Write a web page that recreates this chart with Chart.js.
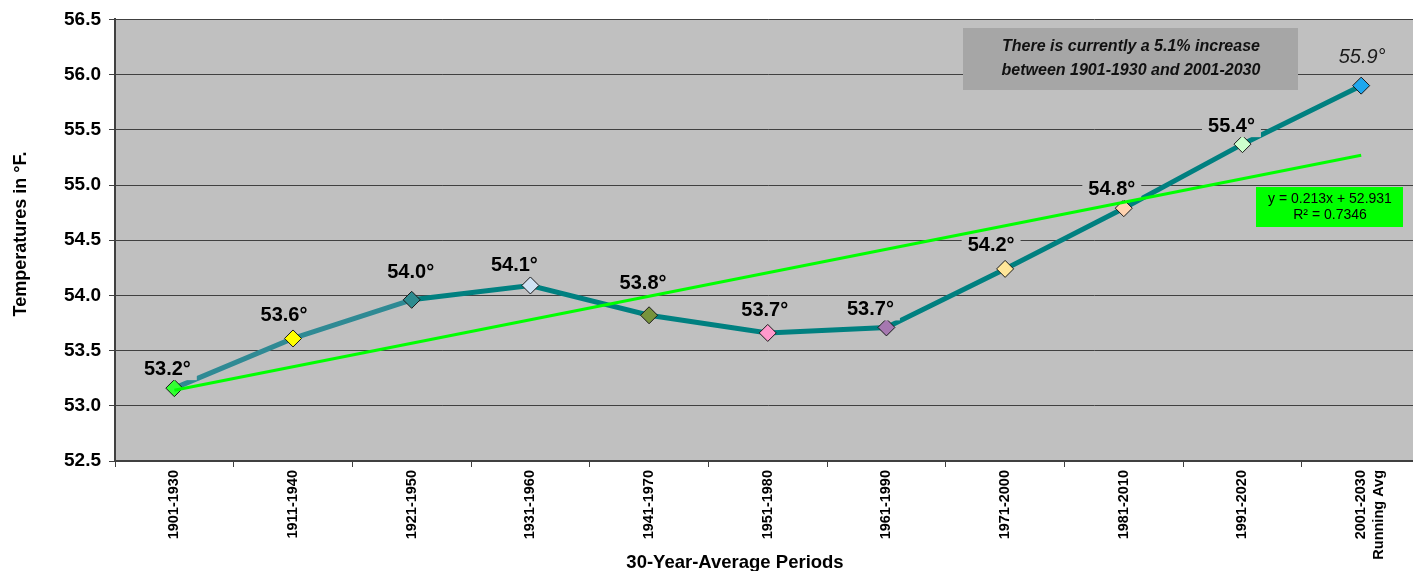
<!DOCTYPE html>
<html>
<head>
<meta charset="utf-8">
<script src="https://cdn.jsdelivr.net/npm/chart.js@4.4.0/dist/chart.umd.min.js"></script>
<style>
  html, body { margin: 0; padding: 0; background: #fff; }
  #wrap { width: 1413px; height: 571px; overflow: hidden; }
</style>
</head>
<body>
<div id="wrap"><canvas id="chart" width="1430" height="571"></canvas></div>
<script>
// ── Data ─────────────────────────────────
const periods = ['1901-1930', '1911-1940', '1921-1950', '1931-1960', '1941-1970', '1951-1980',
  '1961-1990', '1971-2000', '1981-2010', '1991-2020', ['2001-2030', 'Running Avg']];
const temps = [53.16, 53.61, 53.96, 54.09, 53.82, 53.66, 53.71, 54.24, 54.79, 55.37, 55.90];
const markerColors = ['#33ff33', '#ffff00', '#2e8b8f', '#cfe2f3', '#77933c', '#ff99cc',
  '#a678b0', '#ffe699', '#ffd3b0', '#ccffcc', '#1ea7ee'];
// linear trend, end points
const trendValues = [53.14, null, null, null, null, null, null, null, null, null, 55.27];
const equationLines = ['y = 0.213x + 52.931', 'R² = 0.7346'];
const noteLines = ['There is currently a 5.1% increase', 'between 1901-1930 and 2001-2030'];

const FONT = "'Liberation Sans', Arial, sans-serif";
const PLOT_BG = '#c0c0c0';

// plot background
const plotBg = {
  id: 'plotBg',
  beforeDraw(chart) {
    const { ctx, chartArea: a } = chart;
    ctx.save();
    ctx.fillStyle = PLOT_BG;
    ctx.fillRect(a.left, a.top, a.right - a.left, a.bottom - a.top);
    ctx.restore();
  }
};

// value labels above each point, on a grey patch (drawn before the trend line)
const pointLabels = {
  id: 'pointLabels',
  // label nudges (px) like the hand-placed ones in the original
  dx: [-7, -9, -1, -16, -6, -3, -16, -14, -12, -11, 1],
  dy: [-19, -23, -27, -20, -32, -22, -18, -23, -19, -18, -28],
  afterDatasetDraw(chart, args) {
    if (args.index !== 0) return;
    const { ctx } = chart;
    ctx.save();
    ctx.textAlign = 'center';
    ctx.textBaseline = 'middle';
    args.meta.data.forEach((pt, i) => {
      const last = i === temps.length - 1;
      const txt = temps[i].toFixed(1) + '°';
      ctx.font = last ? `italic 20px ${FONT}` : `bold 20px ${FONT}`;
      const x = pt.x + this.dx[i];
      const y = pt.y + this.dy[i];
      const w = ctx.measureText(txt).width + 12;
      ctx.fillStyle = PLOT_BG;
      ctx.fillRect(x - w / 2, y - 11, w, 22);
      ctx.fillStyle = last ? '#1a1a1a' : '#000';
      ctx.fillText(txt, x, y);
    });
    ctx.restore();
  }
};

// note box, equation box, axis titles
const extras = {
  id: 'extras',
  afterDraw(chart) {
    const { ctx } = chart;
    ctx.save();
    // note box
    ctx.fillStyle = '#a6a6a6';
    ctx.fillRect(963, 28, 335, 62);
    ctx.fillStyle = '#111';
    ctx.font = `italic bold 16px ${FONT}`;
    ctx.textAlign = 'center';
    ctx.textBaseline = 'middle';
    ctx.fillText(noteLines[0], 1131, 47);
    ctx.fillText(noteLines[1], 1131, 71);
    // equation box
    ctx.fillStyle = '#00ff00';
    ctx.fillRect(1256, 187, 147, 40);
    ctx.fillStyle = '#000';
    ctx.font = `14px ${FONT}`;
    ctx.fillText(equationLines[0], 1330, 199);
    ctx.fillText(equationLines[1], 1330, 215);
    // x title
    ctx.font = `bold 18.5px ${FONT}`;
    ctx.fillText('30-Year-Average Periods', 735, 563);
    // y title
    ctx.translate(21, 234);
    ctx.rotate(-Math.PI / 2);
    ctx.font = `bold 18px ${FONT}`;
    ctx.fillText('Temperatures in °F.', 0, 0);
    ctx.restore();
  }
};

new Chart(document.getElementById('chart').getContext('2d'), {
  type: 'line',
  data: {
    labels: periods,
    datasets: [
      {
        label: 'Temperature',
        data: temps,
        borderColor: '#008080',
        borderWidth: 5,
        tension: 0,
        segment: { borderColor: c => c.p0DataIndex < 2 ? '#2f8a94' : '#008080' },
        pointStyle: 'rectRot',
        pointRadius: 8.5,
        pointBackgroundColor: markerColors,
        pointBorderColor: '#1a1a1a',
        pointBorderWidth: 1,
        order: 2
      },
      {
        label: 'Trend',
        data: trendValues,
        spanGaps: true,
        borderColor: '#00ff00',
        borderWidth: 3,
        pointRadius: 0,
        tension: 0,
        order: 1
      }
    ]
  },
  options: {
    responsive: false,
    animation: false,
    layout: { padding: { top: 19, right: 0, left: 0, bottom: 0 } },
    plugins: { legend: { display: false }, tooltip: { enabled: false } },
    scales: {
      x: {
        offset: true,
        afterFit: s => { s.height = 110; s.paddingLeft = 0; s.paddingRight = 0; },
        grid: { offset: true, drawOnChartArea: false, color: '#404040', tickLength: 6 },
        border: { color: '#404040', width: 2 },
        ticks: {
          autoSkip: false, minRotation: 90, maxRotation: 90, padding: 3,
          color: '#000', font: { family: FONT, size: 14.5, weight: 'bold' }
        }
      },
      y: {
        min: 52.5, max: 56.5,
        afterFit: s => { s.width = 115; },
        grid: { color: '#404040', lineWidth: 1, tickLength: 6 },
        border: { color: '#404040', width: 2 },
        ticks: {
          stepSize: 0.5, padding: 8, color: '#000',
          font: { family: FONT, size: 19, weight: 'bold' },
          callback: v => v.toFixed(1)
        }
      }
    }
  },
  plugins: [plotBg, pointLabels, extras]
});
</script>
</body>
</html>
